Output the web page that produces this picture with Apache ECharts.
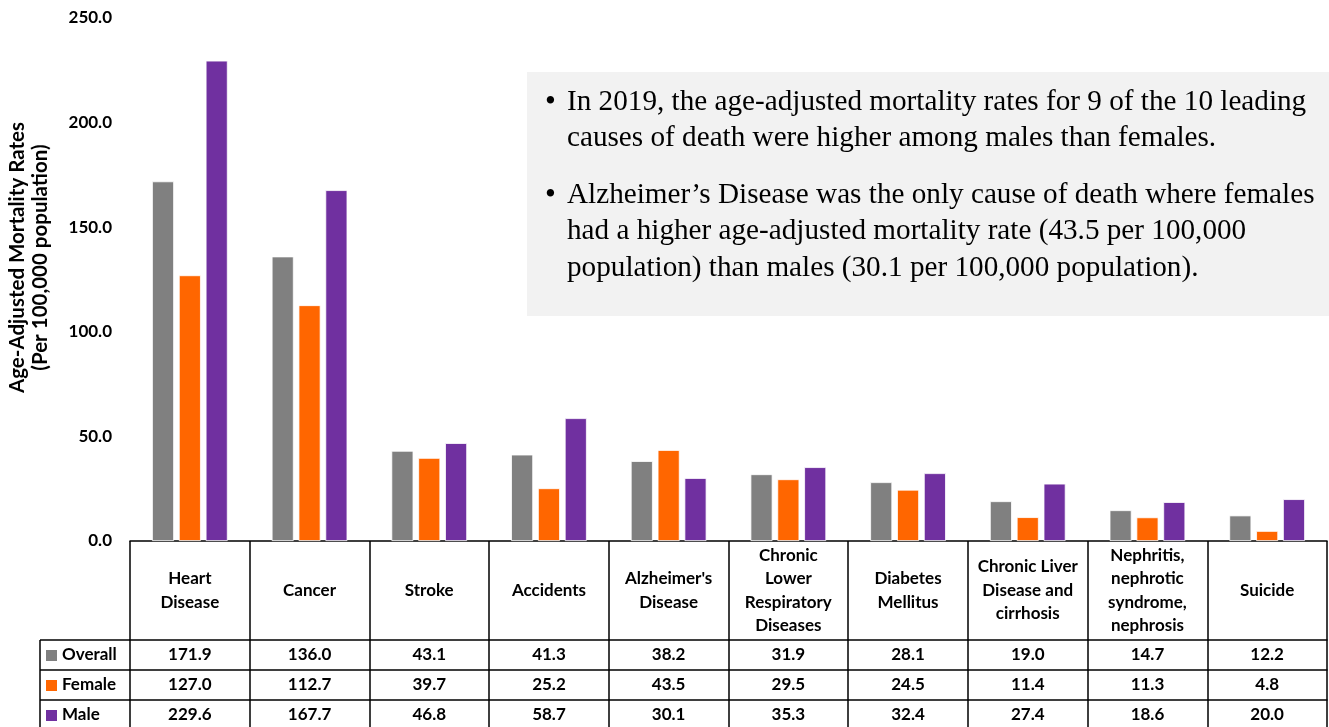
<!DOCTYPE html>
<html>
<head>
<meta charset="utf-8">
<title>Age-Adjusted Mortality Rates, Leading Causes of Death, 2019</title>
<script src="https://cdn.jsdelivr.net/npm/echarts@6/dist/echarts.min.js"></script>
<style>
  html, body { margin: 0; padding: 0; background: #fff; }
  #chart { width: 1329px; height: 727px; }
</style>
</head>
<body>
<div id="chart"></div>
<script>
// Ten leading causes of death (header row of the table)
const categories = [
  'Heart\nDisease', 'Cancer', 'Stroke', 'Accidents', "Alzheimer's\nDisease",
  'Chronic\nLower\nRespiratory\nDiseases', 'Diabetes\nMellitus',
  'Chronic Liver\nDisease and\ncirrhosis', 'Nephritis,\nnephrotic\nsyndrome,\nnephrosis', 'Suicide'
];
// Age-adjusted mortality rates per 100,000 population
const overall = [171.9, 136.0, 43.1, 41.3, 38.2, 31.9, 28.1, 19.0, 14.7, 12.2];
const female  = [127.0, 112.7, 39.7, 25.2, 43.5, 29.5, 24.5, 11.4, 11.3, 4.8];
const male    = [229.6, 167.7, 46.8, 58.7, 30.1, 35.3, 32.4, 27.4, 18.6, 20.0];
const seriesNames = ['Overall', 'Female', 'Male'];
const yMin = 0, yMax = 250, yStep = 50;
const yTitle = 'Age-Adjusted Mortality Rates\n(Per 100,000 population)';
const notes = [
  'In 2019, the age-adjusted mortality rates for 9 of the 10 leading\ncauses of death were higher among males than females.',
  'Alzheimer\u2019s Disease was the only cause of death where females\nhad a higher age-adjusted mortality rate (43.5 per 100,000\npopulation) than males (30.1 per 100,000 population).'
];

const COLORS = ['#808080', '#ff6600', '#7030a0'];
const FONT = 'Lato, "Open Sans", sans-serif';
const SERIF = '"Liberation Serif", "Times New Roman", serif';
const LINE = { color: '#000', width: 1.5 };
const HEADER_H = 99, ROW_H = 30;
const seriesData = [overall, female, male];

const chart = echarts.init(document.getElementById('chart'), null, { renderer: 'canvas' });

// One extra bottom axis per table row; its line draws the row border and its labels the values
const rowAxes = seriesData.map((vals, r) => ({
  type: 'category',
  position: 'bottom',
  offset: HEADER_H + r * ROW_H,
  data: categories,
  axisLine: { show: true, lineStyle: LINE },
  axisTick: { show: false },
  axisLabel: {
    interval: 0,
    margin: ROW_H / 2,
    verticalAlign: 'middle',
    fontFamily: FONT, fontWeight: 'bold', fontSize: 17, color: '#000',
    formatter: (v, i) => vals[i].toFixed(1)
  }
}));

const option = {
  animation: false,
  grid: { left: 130, right: 2, top: 18, bottom: 186, containLabel: false, outerBoundsMode: 'none' },
  xAxis: [{
    type: 'category',
    position: 'bottom',
    data: categories,
    axisLine: { show: true, lineStyle: LINE },
    axisTick: { show: true, length: 190, lineStyle: LINE },
    axisLabel: {
      interval: 0,
      margin: HEADER_H / 2,
      verticalAlign: 'middle',
      align: 'center',
      fontFamily: FONT, fontWeight: 'bold', fontSize: 17, color: '#000', lineHeight: 23.5
    }
  }].concat(rowAxes),
  yAxis: {
    type: 'value',
    min: yMin, max: yMax, interval: yStep,
    name: yTitle,
    nameLocation: 'middle',
    nameRotate: 90,
    nameGap: 78,
    nameTextStyle: { fontFamily: FONT, fontWeight: 'bold', fontSize: 20.5, color: '#000', lineHeight: 23, padding: [0, 0, 0, 44] },
    axisLine: { show: false },
    axisTick: { show: false },
    splitLine: { show: false },
    axisLabel: {
      margin: 18,
      fontFamily: FONT, fontWeight: 'bold', fontSize: 17, color: '#000',
      formatter: v => v.toFixed(1)
    }
  },
  series: seriesData.map((vals, i) => ({
    name: seriesNames[i],
    type: 'bar',
    xAxisIndex: 0,
    data: vals,
    barWidth: 22,
    barGap: '22%',
    itemStyle: { color: COLORS[i], borderColor: '#ffffff', borderWidth: 0.8 }
  }))
};

chart.setOption(option);

// Legend column of the table and the notes box
function extras() {
  const y0 = chart.convertToPixel({ yAxisIndex: 0 }, 0);
  const x0 = chart.convertToPixel({ xAxisIndex: 0 }, 0);
  const x1 = chart.convertToPixel({ xAxisIndex: 0 }, 1);
  const left = x0 - (x1 - x0) / 2;
  const legendLeft = 40;
  const g = [];
  for (let r = 0; r <= seriesData.length; r++) {
    const y = y0 + HEADER_H + r * ROW_H;
    g.push({ type: 'line', shape: { x1: legendLeft, y1: y, x2: left, y2: y }, style: { stroke: '#000', lineWidth: LINE.width } });
  }
  g.push({ type: 'line', shape: { x1: legendLeft, y1: y0 + HEADER_H, x2: legendLeft, y2: 730 }, style: { stroke: '#000', lineWidth: LINE.width } });

  // Series keys in the table's first column
  seriesNames.forEach((name, r) => {
    const cy = y0 + HEADER_H + r * ROW_H + ROW_H / 2;
    g.push({ type: 'rect', shape: { x: 46, y: cy - 5, width: 11, height: 11 }, style: { fill: COLORS[r] } });
    g.push({ type: 'text', x: 62, y: cy, style: { text: name, font: 'bold 17px ' + FONT, fill: '#000', verticalAlign: 'middle' } });
  });

  // Notes box
  g.push({ type: 'rect', shape: { x: 527, y: 72, width: 802, height: 244 }, style: { fill: '#f2f2f2' }, z: -1 });
  const noteTops = [84, 177];
  notes.forEach((t, i) => {
    g.push({ type: 'text', x: 545, y: noteTops[i] + 1, style: { text: '\u2022', font: '31px ' + SERIF, fill: '#000', lineHeight: 36 } });
    g.push({ type: 'text', x: 567, y: noteTops[i], style: { text: t, font: '29.2px ' + SERIF, fill: '#000', lineHeight: 36.5 } });
  });
  chart.setOption({ graphic: g });
}
extras();
</script>
</body>
</html>
